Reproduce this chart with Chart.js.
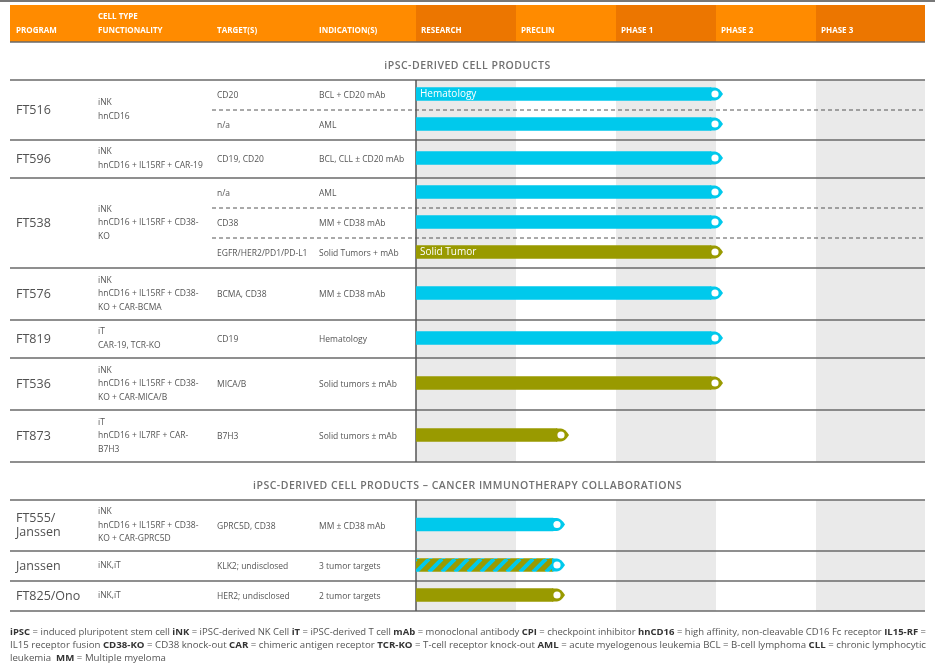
<!DOCTYPE html>
<html>
<head>
<meta charset="utf-8">
<script src="https://cdn.jsdelivr.net/npm/chart.js@4.4.0/dist/chart.umd.min.js"></script>
<style>
  html, body { margin: 0; padding: 0; background: #fff; }
  #wrap { width: 935px; height: 664px; position: relative; }
</style>
</head>
<body>
<div id="wrap"><canvas id="pipeline"></canvas></div>
<script>
const phases = ['RESEARCH', 'PRECLIN', 'PHASE 1', 'PHASE 2', 'PHASE 3'];
const columnHeads = [['PROGRAM'], ['CELL TYPE', 'FUNCTIONALITY'], ['TARGET(S)'], ['INDICATION(S)']];
const sections = ['iPSC-DERIVED CELL PRODUCTS', 'iPSC-DERIVED CELL PRODUCTS – CANCER IMMUNOTHERAPY COLLABORATIONS'];

const programs = [['FT516'], ['FT596'], ['FT538'], ['FT576'], ['FT819'], ['FT536'], ['FT873'], ['FT555/', 'Janssen'], ['Janssen'], ['FT825/Ono']];
const programSection = [0, 0, 0, 0, 0, 0, 0, 1, 1, 1];
const cellTypes = [
  ['iNK', 'hnCD16'],
  ['iNK', 'hnCD16 + IL15RF + CAR-19'],
  ['iNK', 'hnCD16 + IL15RF + CD38-', 'KO'],
  ['iNK', 'hnCD16 + IL15RF + CD38-', 'KO + CAR-BCMA'],
  ['iT', 'CAR-19, TCR-KO'],
  ['iNK', 'hnCD16 + IL15RF + CD38-', 'KO + CAR-MICA/B'],
  ['iT', 'hnCD16 + IL7RF + CAR-', 'B7H3'],
  ['iNK', 'hnCD16 + IL15RF + CD38-', 'KO + CAR-GPRC5D'],
  ['iNK,iT'],
  ['iNK,iT']
];
const targets = [['CD20', 'n/a'], ['CD19, CD20'], ['n/a', 'CD38', 'EGFR/HER2/PD1/PD-L1'], ['BCMA, CD38'], ['CD19'], ['MICA/B'], ['B7H3'], ['GPRC5D, CD38'], ['KLK2; undisclosed'], ['HER2; undisclosed']];
const indications = [['BCL + CD20 mAb', 'AML'], ['BCL, CLL ± CD20 mAb'], ['AML', 'MM + CD38 mAb', 'Solid Tumors + mAb'], ['MM ± CD38 mAb'], ['Hematology'], ['Solid tumors ± mAb'], ['Solid tumors ± mAb'], ['MM ± CD38 mAb'], ['3 tumor targets'], ['2 tumor targets']];
// how far each program has got, in phases (1 unit = 1 phase column)
const progress = [[2.95, 2.95], [2.95], [2.95, 2.95, 2.95], [2.95], [2.95], [2.95], [1.41], [1.37], [1.37], [1.37]];
const focus = [['heme', 'heme'], ['heme'], ['heme', 'heme', 'solid'], ['heme'], ['heme'], ['solid'], ['solid'], ['heme'], ['both'], ['solid']];
const barLabels = [['Hematology', ''], [''], ['', '', 'Solid Tumor'], [''], [''], [''], [''], [''], [''], ['']];

const footerLines = [
  '*iPSC* = induced pluripotent stem cell *iNK* = iPSC-derived NK Cell *iT* = iPSC-derived T cell *mAb* = monoclonal antibody *CPI* = checkpoint inhibitor *hnCD16* = high affinity, non-cleavable CD16 Fc receptor *IL15-RF* =',
  'IL15 receptor fusion *CD38-KO* = CD38 knock-out *CAR* = chimeric antigen receptor *TCR-KO* = T-cell receptor knock-out *AML* = acute myelogenous leukemia BCL = B-cell lymphoma *CLL* = chronic lymphocytic',
  'leukemia  *MM* = Multiple myeloma'
];

// layout
const W = 935, H = 664;
const LEFT = 10, RIGHT = 925, AXIS_X = 416;
const HEADER_TOP = 5, HEADER_BOTTOM = 42, TITLE_GAP = 38;
const groupHeights = [60, 38, 90, 52, 38, 52, 52, 51, 30, 30];
const colX = [16, 98, 217, 319];
const FONT = '"Open Sans", "DejaVu Sans", sans-serif';

const COLORS = {
  heme: '#00C9EC',
  solid: '#999A00',
  orange: '#FF8B00',
  orangeDark: '#EC7600',
  band: '#EAEAEA',
  rule: '#6A6A6A',
  text: '#555555'
};

// stacked row geometry
const blocks = [];
const groups = [];
let yy = HEADER_BOTTOM;
programs.forEach((p, g) => {
  if (g === 0 || programSection[g] !== programSection[g - 1]) {
    if (blocks.length) blocks[blocks.length - 1].bottom = yy;
    blocks.push({ title: sections[programSection[g]], titleY: yy + 24, top: yy + TITLE_GAP });
    yy += TITLE_GAP;
  }
  const n = targets[g].length;
  const sh = groupHeights[g] / n;
  const subs = [];
  for (let i = 0; i < n; i++) subs.push({ top: yy + i * sh, bottom: yy + (i + 1) * sh, center: yy + (i + 0.5) * sh });
  groups.push({ top: yy, bottom: yy + groupHeights[g], center: yy + groupHeights[g] / 2, subs });
  yy += groupHeights[g];
});
blocks[blocks.length - 1].bottom = yy;

function stripePattern() {
  const c = document.createElement('canvas');
  const P = 13;
  c.width = P; c.height = P;
  const x = c.getContext('2d');
  x.fillStyle = COLORS.solid;
  x.fillRect(0, 0, P, P);
  x.strokeStyle = COLORS.heme;
  x.lineWidth = 4;
  for (let k = -1; k <= 1; k++) {
    x.beginPath();
    x.moveTo(k * P, P);
    x.lineTo(k * P + P, 0);
    x.stroke();
  }
  return x.createPattern(c, 'repeat');
}
const stripes = stripePattern();

const barPoints = [];
const barFill = [];
const tipFill = [];
const barText = [];
groups.forEach((grp, g) => {
  grp.subs.forEach((s, i) => {
    barPoints.push({ x: [0, progress[g][i]], y: s.center - 1 });
    const f = focus[g][i];
    barFill.push(f === 'both' ? stripes : COLORS[f]);
    tipFill.push(f === 'solid' ? COLORS.solid : COLORS.heme);
    barText.push(barLabels[g][i]);
  });
});

function hline(ctx, x0, x1, y, dashed) {
  ctx.save();
  ctx.strokeStyle = dashed ? '#555' : COLORS.rule;
  ctx.lineWidth = dashed ? 1 : 1.5;
  if (dashed) ctx.setLineDash([4, 3]);
  ctx.beginPath();
  ctx.moveTo(x0, y);
  ctx.lineTo(x1, y);
  ctx.stroke();
  ctx.restore();
}

function richLine(ctx, line, width) {
  const parts = line.split('*');
  const fonts = parts.map((_, i) => (i % 2 ? 'bold ' : '') + '9px ' + FONT);
  let natural = 0;
  parts.forEach((t, i) => { ctx.font = fonts[i]; natural += ctx.measureText(t).width; });
  return { parts, fonts, sx: width ? width / natural : 1 };
}

// pixel span of phase column i, last one runs to the right edge
function phaseSpan(xs, i) {
  const x0 = xs.getPixelForValue(i);
  const x1 = i === phases.length - 1 ? xs.right : xs.getPixelForValue(i + 1);
  return [x0, x1];
}

const tablePlugin = {
  id: 'pipelineTable',
  beforeDraw(chart) {
    const ctx = chart.ctx;
    const xs = chart.scales.x;
    ctx.save();
    ctx.fillStyle = '#fff';
    ctx.fillRect(0, 0, W, H);

    // top edge
    ctx.fillStyle = '#777';
    ctx.fillRect(0, 0, W, 2);

    // header band
    ctx.fillStyle = COLORS.orange;
    ctx.fillRect(LEFT, HEADER_TOP, AXIS_X - LEFT, HEADER_BOTTOM - HEADER_TOP);
    phases.forEach((ph, i) => {
      const [x0, x1] = phaseSpan(xs, i);
      ctx.fillStyle = i % 2 ? COLORS.orange : COLORS.orangeDark;
      ctx.fillRect(x0, HEADER_TOP, x1 - x0, HEADER_BOTTOM - HEADER_TOP);
    });
    ctx.fillStyle = '#fff';
    ctx.font = 'bold 8px ' + FONT;
    ctx.textBaseline = 'middle';
    columnHeads.forEach((lines, c) => {
      lines.forEach((t, k) => ctx.fillText(t, colX[c], 31 - (lines.length - 1 - k) * 14));
    });
    phases.forEach((ph, i) => ctx.fillText(ph, xs.getPixelForValue(i) + 5, 31));
    hline(ctx, LEFT, RIGHT, HEADER_BOTTOM, false);

    // phase bands and section titles
    blocks.forEach(b => {
      for (let i = 0; i < phases.length; i += 2) {
        const [x0, x1] = phaseSpan(xs, i);
        ctx.fillStyle = COLORS.band;
        ctx.fillRect(x0, b.top, x1 - x0, b.bottom - b.top);
      }
      ctx.fillStyle = '#707070';
      ctx.font = '600 10.5px ' + FONT;
      ctx.letterSpacing = '0.5px';
      ctx.textAlign = 'center';
      ctx.fillText(b.title, (LEFT + RIGHT) / 2, b.titleY);
      ctx.letterSpacing = '0px';
      ctx.textAlign = 'left';
      hline(ctx, LEFT, RIGHT, b.top, false);
    });

    // rows
    groups.forEach((grp, g) => {
      hline(ctx, LEFT, RIGHT, grp.bottom, false);
      grp.subs.forEach((s, i) => { if (i > 0) hline(ctx, 212, RIGHT, s.top, true); });

      ctx.fillStyle = '#505050';
      ctx.font = '12.5px ' + FONT;
      const pl = programs[g];
      pl.forEach((t, k) => ctx.fillText(t, colX[0], grp.center + (k - (pl.length - 1) / 2) * 14));

      ctx.fillStyle = COLORS.text;
      ctx.font = '8.5px ' + FONT;
      const cl = cellTypes[g];
      const step = cl.length > 2 ? 13.5 : 14;
      cl.forEach((t, k) => ctx.fillText(t, colX[1], grp.center + (k - (cl.length - 1) / 2) * step));
      grp.subs.forEach((s, i) => {
        ctx.fillText(targets[g][i], colX[2], s.center + 1);
        ctx.fillText(indications[g][i], colX[3], s.center + 1);
      });
    });

    // phase axis line
    ctx.strokeStyle = '#555';
    ctx.lineWidth = 1.5;
    blocks.forEach(b => {
      ctx.beginPath();
      ctx.moveTo(AXIS_X, b.top);
      ctx.lineTo(AXIS_X, b.bottom);
      ctx.stroke();
    });

    // footer legend, squeezed to the page width
    const fy = [632, 645, 658];
    const m0 = richLine(ctx, footerLines[0], RIGHT + 1 - LEFT);
    const m1 = richLine(ctx, footerLines[1], RIGHT + 1 - LEFT);
    const m2 = richLine(ctx, footerLines[2], null);
    m2.sx = m1.sx;
    [m0, m1, m2].forEach((m, li) => {
      ctx.save();
      ctx.translate(LEFT, fy[li]);
      ctx.scale(m.sx, 1);
      let x = 0;
      m.parts.forEach((t, i) => {
        ctx.font = m.fonts[i];
        ctx.fillStyle = i % 2 ? '#333' : COLORS.text;
        ctx.fillText(t, x, 0);
        x += ctx.measureText(t).width;
      });
      ctx.restore();
    });
    ctx.restore();
  },
  afterDatasetsDraw(chart) {
    const ctx = chart.ctx;
    const meta = chart.getDatasetMeta(0);
    ctx.save();
    meta.data.forEach((bar, i) => {
      const { x, y, base, height } = bar.getProps(['x', 'y', 'base', 'height'], true);
      const h = height / 2;
      ctx.fillStyle = tipFill[i];
      ctx.beginPath();
      ctx.moveTo(x - 1, y - h);
      ctx.lineTo(x + 4, y - h);
      ctx.quadraticCurveTo(x + 8, y - h, x + 12, y);
      ctx.quadraticCurveTo(x + 8, y + h, x + 4, y + h);
      ctx.lineTo(x - 1, y + h);
      ctx.closePath();
      ctx.fill();
      ctx.fillStyle = '#fff';
      ctx.beginPath();
      ctx.arc(x + 4, y, 3.6, 0, Math.PI * 2);
      ctx.fill();
      if (barText[i]) {
        ctx.fillStyle = '#fff';
        ctx.font = '10px ' + FONT;
        ctx.textBaseline = 'middle';
        ctx.fillText(barText[i], base + 4, y);
      }
    });
    ctx.restore();
  }
};

const ctx = document.getElementById('pipeline').getContext('2d');
const chart = new Chart(ctx, {
  type: 'bar',
  data: {
    datasets: [{
      data: barPoints,
      backgroundColor: barFill,
      borderWidth: 0,
      barThickness: 13
    }]
  },
  options: {
    indexAxis: 'y',
    responsive: true,
    maintainAspectRatio: false,
    animation: false,
    layout: { padding: { left: AXIS_X, right: W - RIGHT, top: 0, bottom: 0 } },
    scales: {
      x: { type: 'linear', min: 0, max: 5.09, display: false },
      y: { type: 'linear', min: 0, max: H, reverse: true, offset: false, display: false }
    },
    plugins: {
      legend: { display: false },
      tooltip: { enabled: false }
    }
  },
  plugins: [tablePlugin]
});
</script>
</body>
</html>
